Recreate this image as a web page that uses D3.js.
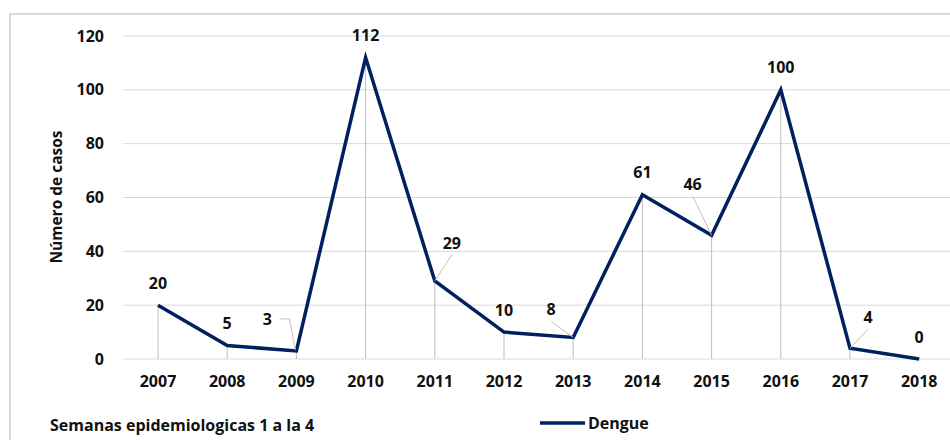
<!DOCTYPE html>
<html>
<head>
<meta charset="utf-8">
<script src="https://cdn.jsdelivr.net/npm/d3@7"></script>
<style>
  body { margin: 0; background: #fff; }
  svg { display: block; font-family: "Open Sans", sans-serif; font-weight: 700; }
</style>
</head>
<body>
<svg id="viz" width="950" height="440"></svg>
<script>
// data
var years = ["2007", "2008", "2009", "2010", "2011", "2012", "2013", "2014", "2015", "2016", "2017", "2018"];
var casos = [20, 5, 3, 112, 29, 10, 8, 61, 46, 100, 4, 0];
var yTicks = [0, 20, 40, 60, 80, 100, 120];
// label offsets relative to the point (dx, dy) and whether a leader line is drawn
var labelDx = [0, 0, -29, 0, 17, 0, -22, 0, -19, 0, 18, 0];
var labelDy = [-22, -22, -32, -22, -38, -22, -28, -22, -51, -22, -31, -22];
var leader = [false, false, true, false, true, false, true, false, true, false, true, false];

var width = 950, height = 440;
var svg = d3.select("#viz");

// chart frame (only top + left visible)
svg.append("path")
    .attr("d", "M10,440 V14 H950")
    .attr("fill", "none")
    .attr("stroke", "#d9d9d9")
    .attr("stroke-width", 2);

var x = d3.scaleBand().domain(years).range([123.4, 953.8]);
var y = d3.scaleLinear().domain([0, 120]).range([359, 36]);
var cx = function (d) { return x(d) + x.bandwidth() / 2; };

// gridlines
svg.append("g").selectAll("line")
    .data(yTicks)
    .enter()
    .append("line")
    .attr("x1", 123).attr("x2", 950)
    .attr("y1", function (d) { return y(d); })
    .attr("y2", function (d) { return y(d); })
    .attr("stroke", "#d9d9d9")
    .attr("stroke-width", 1);

// y tick labels
svg.append("g").selectAll("text")
    .data(yTicks)
    .enter()
    .append("text")
    .attr("x", 104)
    .attr("y", function (d) { return y(d); })
    .attr("dy", "0.35em")
    .attr("text-anchor", "end")
    .style("font-size", "16px")
    .attr("fill", "#111")
    .text(function (d) { return d; });

// x tick labels
svg.append("g").selectAll("text")
    .data(years)
    .enter()
    .append("text")
    .attr("x", cx)
    .attr("y", 381)
    .attr("dy", "0.35em")
    .attr("text-anchor", "middle")
    .style("font-size", "16px")
    .attr("fill", "#111")
    .text(function (d) { return d; });

// y axis title
svg.append("text")
    .attr("transform", "translate(57,197) rotate(-90)")
    .attr("text-anchor", "middle")
    .attr("dy", "0.35em")
    .style("font-size", "15.5px")
    .attr("fill", "#111")
    .text("Número de casos");

// drop lines
svg.append("g").selectAll("line")
    .data(years)
    .enter()
    .append("line")
    .attr("x1", cx).attr("x2", cx)
    .attr("y1", function (d, i) { return y(casos[i]); })
    .attr("y2", y(0))
    .attr("stroke", "#bfbfbf")
    .attr("stroke-width", 1);

// series line
var line = d3.line()
    .x(function (d, i) { return cx(years[i]); })
    .y(function (d) { return y(d); });

svg.append("path")
    .datum(casos)
    .attr("d", line)
    .attr("fill", "none")
    .attr("stroke", "#002060")
    .attr("stroke-width", 3.5)
    .attr("stroke-linejoin", "miter");

// leader lines
svg.append("g").selectAll("path")
    .data(years.filter(function (d, i) { return leader[i]; }))
    .enter()
    .append("path")
    .attr("d", function (d) {
        var i = years.indexOf(d);
        var px = cx(d), py = y(casos[i]);
        var lx = px + labelDx[i], ly = py + labelDy[i];
        if (labelDx[i] < -25) {
            // label sits to the left: short horizontal then down
            return "M" + (lx + 12) + "," + ly + " H" + (px - 7) + " L" + (px - 1) + "," + (py - 1);
        }
        return "M" + lx + "," + (ly + 12) + " L" + px + "," + py;
    })
    .attr("fill", "none")
    .attr("stroke", "#bfbfbf")
    .attr("stroke-width", 1);

// data labels
svg.append("g").selectAll("text")
    .data(casos)
    .enter()
    .append("text")
    .attr("x", function (d, i) { return cx(years[i]) + labelDx[i]; })
    .attr("y", function (d, i) { return y(d) + labelDy[i]; })
    .attr("dy", "0.35em")
    .attr("text-anchor", "middle")
    .style("font-size", "16px")
    .attr("fill", "#111")
    .text(function (d) { return d; });

// footer
svg.append("text")
    .attr("x", 50)
    .attr("y", 425)
    .attr("dy", "0.35em")
    .style("font-size", "16px")
    .attr("fill", "#111")
    .text("Semanas epidemiologicas 1 a la 4");

svg.append("line")
    .attr("x1", 540).attr("x2", 585)
    .attr("y1", 423).attr("y2", 423)
    .attr("stroke", "#002060")
    .attr("stroke-width", 3.5);

svg.append("text")
    .attr("x", 588)
    .attr("y", 423)
    .attr("dy", "0.35em")
    .style("font-size", "16px")
    .attr("fill", "#111")
    .text("Dengue");
</script>
</body>
</html>
